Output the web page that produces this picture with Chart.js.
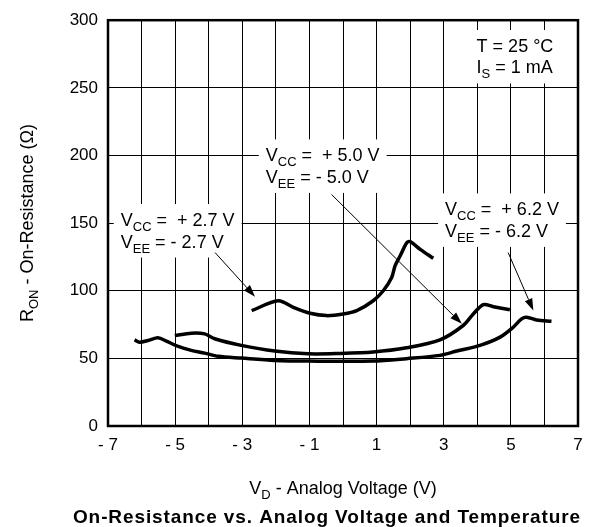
<!DOCTYPE html>
<html><head><meta charset="utf-8">
<script src="https://cdn.jsdelivr.net/npm/chart.js@4/dist/chart.umd.min.js"></script>
<style>html,body{margin:0;padding:0;background:#fff}</style>
</head><body>
<canvas id="c" width="606" height="527"></canvas>
<script>
// ---- data ----
const xTickValues = [-7,-5,-3,-1,1,3,5,7];
const yTickValues = [0,50,100,150,200,250,300];

const v27X = [-2.72,-1.93,-1.48,-0.98,-0.49,0.0,0.41,0.9,1.2,1.45,1.55,1.7,1.9,2.0,2.3,2.69];
const v27Y = [85.3,92.6,87.7,83.3,81.6,82.8,85.3,92.6,100,109.8,118.4,125.7,135.5,136.3,130.6,124];

const v50X = [-5.01,-4.52,-4.12,-3.82,-3.03,-2.03,-1.04,-0.15,0.9,1.89,2.89,3.58,3.88,4.18,4.48,4.97];
const v50Y = [66.9,68.6,68.1,64.5,59.6,55.4,53.4,53.6,54.7,57.8,63.7,74.3,82.8,89.7,88.2,86];

const v62X = [-6.21,-6.06,-5.81,-5.51,-5.26,-4.91,-4.52,-4.12,-3.72,-3.03,-2.03,-1.04,0.9,1.89,2.89,3.39,4.08,4.68,5.07,5.32,5.47,5.77,6.21];
const v62Y = [63.7,62,63.2,65.2,62.7,58.8,55.9,53.9,51.5,50.2,48.5,48,48,49.8,52.2,55.4,59.6,65.7,73,79.2,80.4,78.4,77.4];

const seriesNames = ['VCC = +2.7 V', 'VCC = +5.0 V', 'VCC = +6.2 V'];

// ---- annotation layout (data coordinates) ----
const labelDefs = [
  {x:3.98, y:276.5, lines:[[['T = 25 °C','']],[['I',''],['S','sub'],[' = 1 mA','']]]},
  {x:-2.30, y:195.6, lines:[[['V',''],['CC','sub'],[' =  + 5.0 V','']],[['V',''],['EE','sub'],[' = - 5.0 V','']]]},
  {x:-6.62, y:147.8, lines:[[['V',''],['CC','sub'],[' =  + 2.7 V','']],[['V',''],['EE','sub'],[' = - 2.7 V','']]]},
  {x:3.04, y:155.7, lines:[[['V',''],['CC','sub'],[' =  + 6.2 V','']],[['V',''],['EE','sub'],[' = - 6.2 V','']]]}
];
const arrowDefs = [
  {x1:-3.81, y1:128.2, x2:-2.62, y2:95.6},
  {x1:-0.34, y1:171.1, x2:3.54, y2:75.5},
  {x1:4.92, y1:128.2, x2:5.67, y2:85.3}
];

const FONT = '"Liberation Sans", Arial, Helvetica, sans-serif';
const MAIN = 18, SUB = 13, LINE_H = 21.5;

function pts(xs, ys){ return xs.map((x,i)=>({x:x, y:ys[i]})); }

function drawRich(ctx, parts, x, y){
  let cx = x;
  for (const [t, k] of parts){
    if (k === 'sub'){ ctx.font = SUB + 'px ' + FONT; ctx.fillText(t, cx, y + 5); }
    else { ctx.font = MAIN + 'px ' + FONT; ctx.fillText(t, cx, y); }
    cx += ctx.measureText(t).width;
  }
  return cx - x;
}
function richWidth(ctx, parts){
  let w = 0;
  for (const [t,k] of parts){ ctx.font = (k==='sub'?SUB:MAIN) + 'px ' + FONT; w += ctx.measureText(t).width; }
  return w;
}

const annotPlugin = {
  id: 'annot',
  afterDraw(chart){
    const ctx = chart.ctx, xs = chart.scales.x, ys = chart.scales.y, a = chart.chartArea;
    ctx.save();
    // frame
    ctx.strokeStyle = '#000'; ctx.lineWidth = 2.5;
    ctx.strokeRect(a.left, a.top, a.right - a.left, a.bottom - a.top);
    // labels
    ctx.textBaseline = 'alphabetic'; ctx.textAlign = 'left';
    for (const L of labelDefs){
      const px = xs.getPixelForValue(L.x), py = ys.getPixelForValue(L.y);
      let w = 0;
      for (const ln of L.lines) w = Math.max(w, richWidth(ctx, ln));
      const top = py - 14 - 8, bot = py + (L.lines.length-1)*LINE_H + 10;
      ctx.fillStyle = '#fff';
      ctx.fillRect(px - 7, top, w + 14, bot - top);
      ctx.fillStyle = '#000';
      L.lines.forEach((ln, i) => drawRich(ctx, ln, px, py + i*LINE_H));
    }
    // arrows
    ctx.strokeStyle = '#000'; ctx.fillStyle = '#000'; ctx.lineWidth = 1;
    for (const A of arrowDefs){
      const x1 = xs.getPixelForValue(A.x1), y1 = ys.getPixelForValue(A.y1);
      const x2 = xs.getPixelForValue(A.x2), y2 = ys.getPixelForValue(A.y2);
      const ang = Math.atan2(y2 - y1, x2 - x1), hl = 12, hw = 4;
      const bx = x2 - hl*Math.cos(ang), by = y2 - hl*Math.sin(ang);
      ctx.beginPath(); ctx.moveTo(x1, y1); ctx.lineTo(bx, by); ctx.stroke();
      ctx.beginPath();
      ctx.moveTo(x2, y2);
      ctx.lineTo(bx + hw*Math.sin(ang), by - hw*Math.cos(ang));
      ctx.lineTo(bx - hw*Math.sin(ang), by + hw*Math.cos(ang));
      ctx.closePath(); ctx.fill();
    }
    // x axis title
    ctx.fillStyle = '#000';
    const xt = [['V',''],['D','sub'],[' - Analog Voltage (V)','']];
    const xw = richWidth(ctx, xt);
    drawRich(ctx, xt, (a.left + a.right)/2 - xw/2, 494);
    // caption
    ctx.save();
    ctx.font = 'bold 19px ' + FONT; ctx.textAlign = 'center';
    try { ctx.letterSpacing = '0.9px'; } catch(e) {}
    ctx.fillText('On-Resistance vs. Analog Voltage and Temperature', 327, 523);
    ctx.restore();
    // y title
    ctx.textAlign = 'left';
    ctx.translate(33, (a.top + a.bottom)/2);
    ctx.rotate(-Math.PI/2);
    const yt = [['R',''],['ON','sub'],[' - On-Resistance (Ω)','']];
    const yw = richWidth(ctx, yt);
    drawRich(ctx, yt, -yw/2, 0);
    ctx.restore();
  }
};

const lineStyle = {borderColor:'#000', borderWidth:3.5, pointRadius:0, showLine:true, tension:0.3, fill:false};

new Chart(document.getElementById('c'), {
  type: 'scatter',
  data: { datasets: [
    Object.assign({label: seriesNames[0], data: pts(v27X, v27Y)}, lineStyle),
    Object.assign({label: seriesNames[1], data: pts(v50X, v50Y)}, lineStyle),
    Object.assign({label: seriesNames[2], data: pts(v62X, v62Y)}, lineStyle)
  ]},
  options: {
    responsive: false, devicePixelRatio: 1, animation: false,
    layout: { padding: {left: 0, right: 28, top: 18, bottom: 0} },
    plugins: { legend: {display:false}, tooltip: {enabled:false} },
    scales: {
      x: {
        type: 'linear', min: -7, max: 7,
        afterFit(s){ s.height = 101; },
        grid: { color:'#000', lineWidth:1, drawTicks:false },
        border: { display:false },
        ticks: { stepSize: 1, padding: 9, color:'#000', font:{family: FONT, size: 17},
          autoSkip:false, maxRotation:0,
          callback: v => xTickValues.includes(v) ? (v < 0 ? '- ' + Math.abs(v) : String(v)) : '' }
      },
      y: {
        type: 'linear', min: 0, max: 300,
        afterFit(s){ s.width = 108; },
        grid: { color:'#000', lineWidth:1, drawTicks:false },
        border: { display:false },
        ticks: { stepSize: 50, padding: 10, color:'#000', font:{family: FONT, size: 17},
          callback: v => yTickValues.includes(v) ? String(v) : '' }
      }
    }
  },
  plugins: [annotPlugin]
});
</script>
</body></html>
